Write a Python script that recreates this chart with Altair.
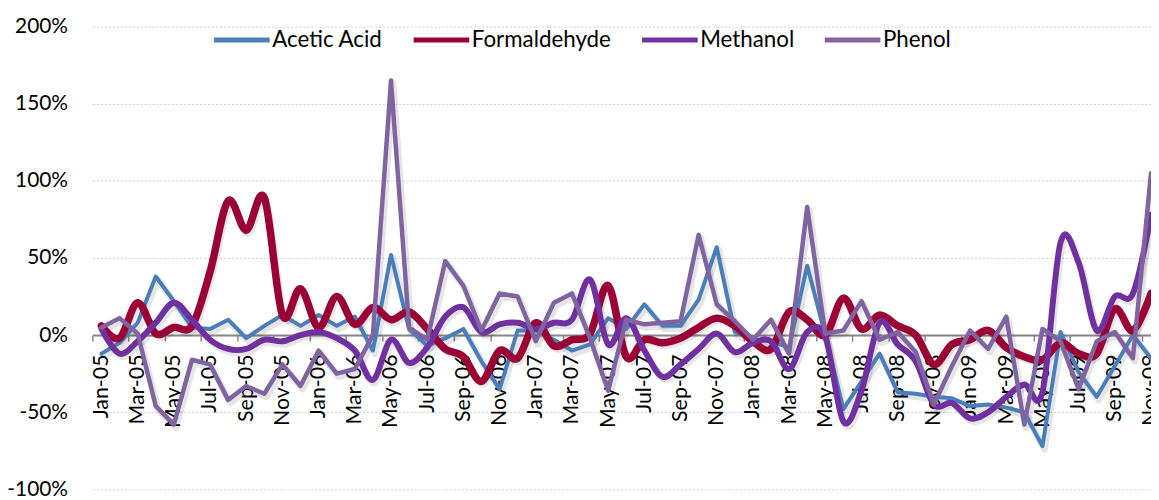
import altair as alt
import pandas as pd

months = [
    "Jan-05", "Feb-05", "Mar-05", "Apr-05", "May-05", "Jun-05", "Jul-05", "Aug-05", "Sep-05", "Oct-05", "Nov-05", "Dec-05",
    "Jan-06", "Feb-06", "Mar-06", "Apr-06", "May-06", "Jun-06", "Jul-06", "Aug-06", "Sep-06", "Oct-06", "Nov-06", "Dec-06",
    "Jan-07", "Feb-07", "Mar-07", "Apr-07", "May-07", "Jun-07", "Jul-07", "Aug-07", "Sep-07", "Oct-07", "Nov-07", "Dec-07",
    "Jan-08", "Feb-08", "Mar-08", "Apr-08", "May-08", "Jun-08", "Jul-08", "Aug-08", "Sep-08", "Oct-08", "Nov-08", "Dec-08",
    "Jan-09", "Feb-09", "Mar-09", "Apr-09", "May-09", "Jun-09", "Jul-09", "Aug-09", "Sep-09", "Oct-09", "Nov-09",
]

# monthly change, in percent
acetic = [
    -12, -5, 8, 38, 22, 5, 4, 10, -2, 6,
    13, 6, 13, 6, 12, -10, 52, 4, -7, -2,
    4, -17, -35, 3, 3, -3, -10, -6, 11, 4,
    20, 6, 6, 23, 57, 2, -3, -4, -8, 45,
    0, -48, -30, -12, -37, -38, -40, -41, -46, -45,
    -47, -50, -72, 2, -24, -40, -20, 0, -15,
]
formaldehyde = [
    6, -2, 21, 1, 5, 6, 41, 87, 68, 89,
    13, 30, 5, 25, 7, 18, 10, 15, 4, -9,
    -14, -30, -10, -15, 8, -7, -3, 1, 32, -14,
    -3, -5, -2, 5, 11, 6, -4, -9, 15, 10,
    0, 24, 4, 13, 6, 0, -19, -6, -3, 3,
    -8, -14, -16, -5, -12, -12, 17, 3, 27,
]
methanol = [
    4, -12, -4, 8, 21, 10, -3, -9, -9, -3,
    -4, 0, 2, -2, -10, -29, -3, -18, -8, 12,
    18, 2, 7, 8, 4, 8, 10, 36, -6, 11,
    -10, -27, -19, -9, 1, -11, -5, -4, -22, 2,
    -1, -56, -36, 8, -6, -17, -45, -44, -54, -50,
    -40, -32, -37, 60, 47, 3, 25, 27, 78,
]
phenol = [
    5, 11, 1, -46, -58, -16, -19, -42, -33, -38,
    -19, -33, -10, -25, -22, 0, 165, 5, -3, 48,
    32, 3, 27, 25, -4, 21, 27, -2, -36, 10,
    7, 8, 9, 65, 20, 9, -3, 10, -12, 83,
    1, 3, 22, -3, 2, -11, -45, -20, 3, -9,
    12, -58, 4, -4, -35, -4, 2, -15, 105,
]

series_names = ["Acetic Acid", "Formaldehyde", "Methanol", "Phenol"]
series_values = [acetic, formaldehyde, methanol, phenol]
colors = ["#4A7EBB", "#9B0034", "#7030A0", "#8064A2"]
widths = [4, 7.5, 6, 4.5]
smooth = [False, True, True, False]

y_ticks = [-1, -0.5, 0, 0.5, 1, 1.5, 2]

rows = []
for name, vals in zip(series_names, series_values):
    for i, v in enumerate(vals):
        rows.append({"idx": i, "month": months[i], "series": name, "value": v / 100})
df = pd.DataFrame(rows)

W, H = 1066, 466
FONT = "Lato"

x_scale = alt.Scale(domain=[-0.5, 58.0], nice=False, zero=False)
y_scale = alt.Scale(domain=[-1, 2], nice=False, zero=False)
color_scale = alt.Scale(domain=series_names, range=colors)

label_expr = "[" + ",".join("'" + m + "'" for m in months) + "][datum.value]"

x_label_axis = alt.Axis(
    orient="bottom", values=list(range(0, 59, 2)), labelExpr=label_expr,
    ticks=False, domain=False, grid=False, labelAngle=-90, labelAlign="right",
    labelBaseline="middle", labelPadding=19, labelFont=FONT, labelFontSize=21.5,
    labelColor="#000000", offset=-H / 3, title=None, labelOverlap=False,
    labelFlush=False, labelBound=False,
)
x_tick_axis = alt.Axis(
    orient="bottom", values=[i - 0.5 for i in range(0, 59, 2)], labels=False,
    ticks=True, tickSize=6, tickColor="#868686", tickWidth=1.5,
    domain=True, domainColor="#868686", domainWidth=2, grid=False,
    offset=-H / 3, title=None,
)
y_axis = alt.Axis(
    values=y_ticks, labelExpr="round(datum.value*100) + '%'", grid=True,
    gridColor="#CFCFCF", gridDash=[2, 2], gridWidth=1, ticks=False, domain=False,
    labelPadding=25, labelFont=FONT, labelFontSize=21, labelColor="#000000",
    title=None,
)

legend = alt.Legend(
    orient="none", legendX=120, legendY=-17, direction="horizontal", title=None,
    symbolType="stroke", symbolSize=3136, symbolStrokeWidth=5,
    labelFont=FONT, labelFontSize=22.5, labelColor="#000000",
    columnPadding=20, labelOffset=0,
)

base = alt.Chart(df)

shadow_layers = []
for is_smooth in (False, True):
    names = [n for n, s in zip(series_names, smooth) if s == is_smooth]
    shadow_layers.append(
        base.transform_filter(alt.FieldOneOfPredicate(field="series", oneOf=names))
        .mark_line(
            color="#000000", opacity=0.10, strokeWidth=7, xOffset=2, yOffset=3,
            strokeCap="round", strokeJoin="round", clip=True,
            interpolate="cardinal" if is_smooth else "linear",
        )
        .encode(
            x=alt.X("idx:Q", scale=x_scale, axis=None),
            y=alt.Y("value:Q", scale=y_scale, axis=None),
            detail="series:N",
        )
    )

line_layers = []
for k, (name, w, s) in enumerate(zip(series_names, widths, smooth)):
    if k == 0:
        xa, ya, lg = x_label_axis, y_axis, legend
    elif k == 1:
        xa, ya, lg = x_tick_axis, None, None
    else:
        xa, ya, lg = None, None, None
    line_layers.append(
        base.transform_filter(alt.datum.series == name)
        .mark_line(
            strokeWidth=w, strokeCap="round", strokeJoin="round", clip=True,
            interpolate="cardinal" if s else "linear",
        )
        .encode(
            x=alt.X("idx:Q", scale=x_scale, axis=xa),
            y=alt.Y("value:Q", scale=y_scale, axis=ya),
            color=alt.Color("series:N", scale=color_scale, legend=lg),
        )
    )

chart = (
    alt.layer(*shadow_layers, *line_layers)
    .resolve_axis(x="independent", y="independent")
    .properties(
        width=W, height=H,
        padding={"left": 85, "top": 17, "right": 0, "bottom": 9},
        autosize=alt.AutoSizeParams(type="none"),
        background="#FFFFFF",
    )
    .configure_view(stroke=None)
)

chart.save("out.html", embed_options={"renderer": "svg", "actions": False})
